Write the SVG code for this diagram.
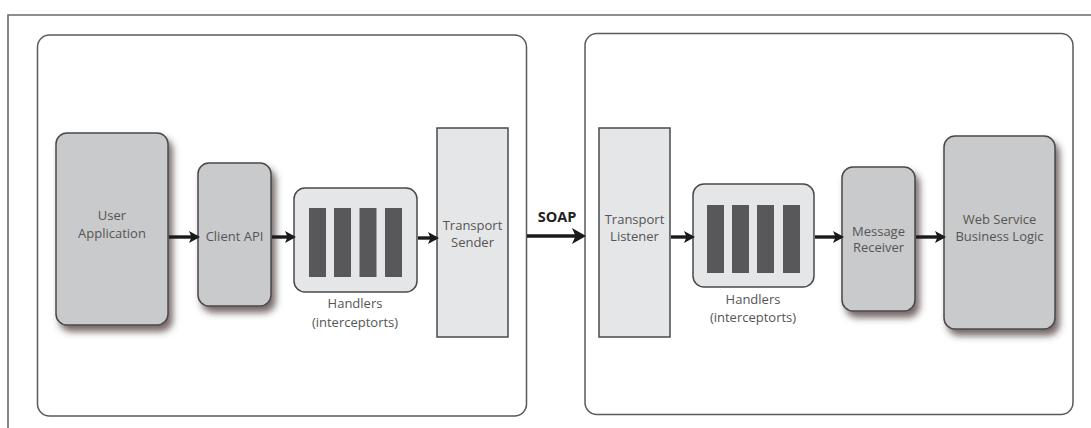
<svg xmlns="http://www.w3.org/2000/svg" width="1091" height="428" viewBox="0 0 1091 428">
<style>
.frame{fill:none;stroke:#6a6a6a;stroke-width:1.6}
.cont{fill:#fff;stroke:#5a5a5a;stroke-width:1.5}
.rnode{fill:#c9cacc;stroke:#4a4a4a;stroke-width:1.5;filter:url(#sh)}
.lnode{fill:#e5e6e8;stroke:#4a4a4a;stroke-width:1.5}
.bar{fill:#58585b}
.lbl{font-family:"Open Sans","Liberation Sans",sans-serif;font-size:13px;fill:#555;text-anchor:middle}
.soap{font-family:"Open Sans","Liberation Sans",sans-serif;font-size:14.5px;font-weight:bold;fill:#222;text-anchor:middle}
.arr{stroke:#1a1a1a;stroke-width:3.4;fill:none;marker-end:url(#ah)}
</style>
<defs>
<filter id="sh" x="-20%" y="-20%" width="150%" height="150%">
<feDropShadow dx="4" dy="6" stdDeviation="3.5" flood-color="#4a3535" flood-opacity="0.75"/>
</filter>
<marker id="ah" markerWidth="11" markerHeight="12" refX="8" refY="6" orient="auto" markerUnits="userSpaceOnUse">
<path d="M0,0 L11,6 L0,12 L2.5,6 Z" fill="#1a1a1a"/>
</marker>
<marker id="ah2" markerWidth="14" markerHeight="16" refX="11" refY="8" orient="auto" markerUnits="userSpaceOnUse">
<path d="M0,0 L14,8 L0,16 L3.5,8 Z" fill="#1a1a1a"/>
</marker>
</defs>
<rect width="1091" height="428" fill="#fff"/>
<path class="frame" d="M8,428 V15 H1091"/>
<rect id="client-side" class="cont" x="37.5" y="35" width="489" height="381" rx="12"/>
<rect id="server-side" class="cont" x="585" y="33.5" width="488" height="381" rx="12"/>

<g id="user-application">
<rect class="rnode" x="56" y="133" width="112" height="192" rx="11"/>
<text class="lbl" x="112" y="220">User</text>
<text class="lbl" x="112" y="238">Application</text>
</g>
<g id="client-api">
<rect class="rnode" x="198" y="163" width="73" height="143" rx="11"/>
<text class="lbl" x="234.5" y="241">Client API</text>
</g>
<g id="handlers-client">
<rect class="lnode" x="294" y="188" width="123" height="104" rx="11"/>
<rect class="bar" x="309" y="208" width="17" height="69"/>
<rect class="bar" x="334" y="208" width="17" height="69"/>
<rect class="bar" x="359.5" y="208" width="17" height="69"/>
<rect class="bar" x="385" y="208" width="17" height="69"/>
<text class="lbl" x="355" y="308">Handlers</text>
<text class="lbl" x="355" y="327">(interceptorts)</text>
</g>
<g id="transport-sender">
<rect class="lnode" x="437" y="128" width="71" height="209"/>
<text class="lbl" x="472.5" y="230">Transport</text>
<text class="lbl" x="472.5" y="247">Sender</text>
</g>
<g id="transport-listener">
<rect class="lnode" x="599" y="128" width="71" height="209"/>
<text class="lbl" x="634.5" y="224">Transport</text>
<text class="lbl" x="634.5" y="241">Listener</text>
</g>
<g id="handlers-server">
<rect class="lnode" x="693" y="184" width="121" height="103" rx="11"/>
<rect class="bar" x="707" y="205" width="17" height="68"/>
<rect class="bar" x="732" y="205" width="17" height="68"/>
<rect class="bar" x="757" y="205" width="17" height="68"/>
<rect class="bar" x="783" y="205" width="17" height="68"/>
<text class="lbl" x="753" y="304">Handlers</text>
<text class="lbl" x="753" y="322">(interceptorts)</text>
</g>
<g id="message-receiver">
<rect class="rnode" x="842" y="167" width="73" height="144" rx="11"/>
<text class="lbl" x="878.5" y="236">Message</text>
<text class="lbl" x="878.5" y="252">Receiver</text>
</g>
<g id="web-service">
<rect class="rnode" x="944" y="136" width="111" height="193" rx="11"/>
<text class="lbl" x="999.5" y="224">Web Service</text>
<text class="lbl" x="999.5" y="241">Business Logic</text>
</g>

<g id="connectors">
<line class="arr" x1="169" y1="237" x2="197" y2="237"/>
<line class="arr" x1="272" y1="237" x2="293" y2="237"/>
<line class="arr" x1="418" y1="238" x2="436" y2="238"/>
<line x1="527" y1="236" x2="583" y2="236" stroke="#1a1a1a" stroke-width="3.4" marker-end="url(#ah2)"/>
<line class="arr" x1="671" y1="237" x2="692" y2="237"/>
<line class="arr" x1="815" y1="237" x2="841" y2="237"/>
<line class="arr" x1="916" y1="237" x2="943" y2="237"/>
<text class="soap" x="557" y="222">SOAP</text>
</g>
</svg>
